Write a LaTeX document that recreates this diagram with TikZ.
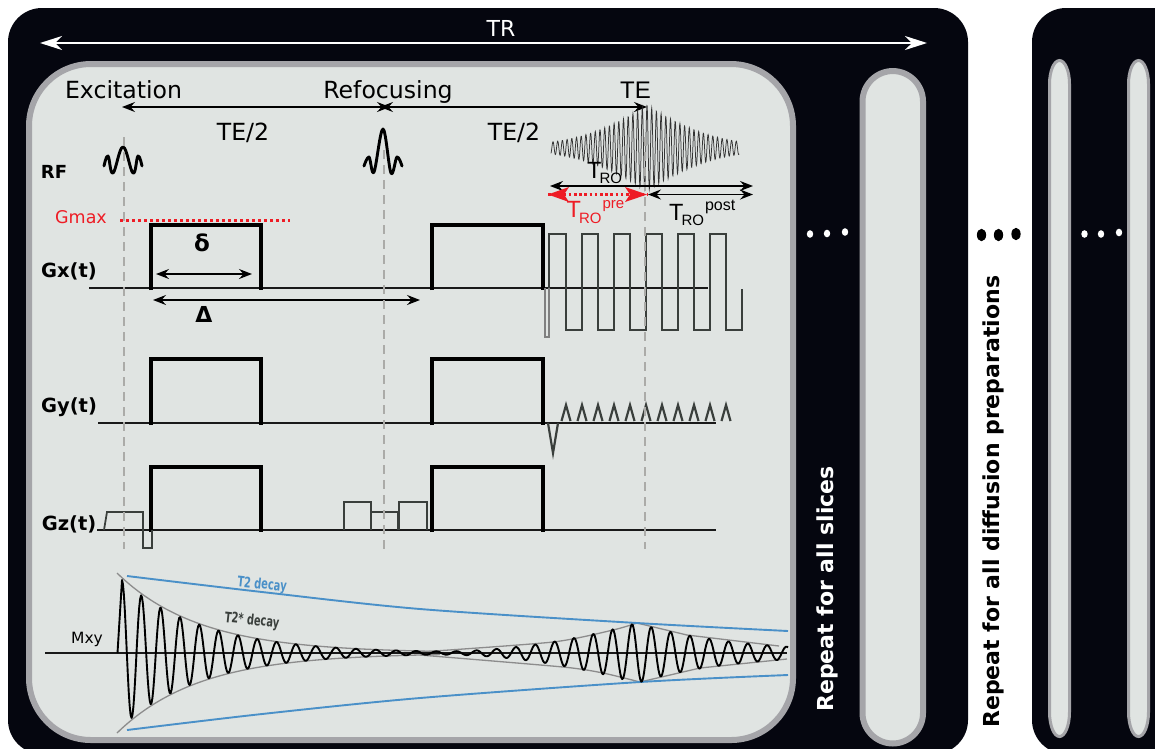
\documentclass[tikz,border=0pt]{standalone}
\usepackage{fontspec}
\setmainfont{DejaVu Sans}
\newfontfamily\libfont{Liberation Sans}
\usetikzlibrary{arrows.meta}
\newcommand{\fsz}[1]{\fontsize{#1}{#1}\selectfont}
\definecolor{panel}{HTML}{05060F}
\definecolor{inner}{HTML}{E0E4E2}
\definecolor{rim}{HTML}{A5A5A9}
\definecolor{dashgray}{HTML}{ABABA8}
\definecolor{wire}{HTML}{3A3F3C}
\definecolor{bluecurve}{HTML}{4A90C8}
\definecolor{redmark}{HTML}{EE1C25}
\definecolor{envgray}{HTML}{8C8C8C}
\tikzset{
  txt/.style={inner sep=0pt,anchor=base,font=\fsz{23.6}},
  lab/.style={inner sep=0pt,anchor=base,font=\bfseries\fsz{19.5}},
  tro/.style={inner sep=0pt,anchor=base west,font=\libfont\fsz{23.5}},
  capsule/.style={draw=rim,fill=inner,line width=6pt,rounded corners=30.5pt},
  slim/.style={draw=rim,fill=inner,line width=3pt},
  guide/.style={draw=dashgray,line width=2.6pt,dash pattern=on 9pt off 6pt},
  pulse/.style={line width=4.2pt,miter limit=10},
  axis/.style={line width=1.5pt,black!90},
  lobe/.style={line width=2.2pt,wire,line join=miter},
  box/.style={line width=1.8pt,wire},
  dim/.style={line width=1.6pt,{Stealth[length=13pt,width=10pt,inset=4.5pt]}-{Stealth[length=13pt,width=10pt,inset=4.5pt]}},
  wht/.style={white,line width=1.7pt,{Stealth[length=22pt,width=14pt,inset=7pt]}-{Stealth[length=22pt,width=14pt,inset=7pt]}},
  rfp/.style={line width=2.9pt,line join=round,line cap=round},
  env/.style={envgray,line width=1.3pt},
  blu/.style={bluecurve,line width=1.9pt}
}
\begin{document}
\begin{tikzpicture}[x=1pt,y=-1pt,
  declare function={
    mxyrise(\x)=max(0,1-(637-\x)/210);
    mxyamp(\x)=73*exp(-(\x-122)/82)+ifthenelse(\x<637,30*mxyrise(\x)*mxyrise(\x),30*exp(-(\x-637)/96));
    mxyph(\x)=(\x-122)/19.33-0.38*min(1,max(0,(\x-300)/200));
    echot(\x)=max(0,1-abs(\x-647)/96);
    echoamp(\x)=6+37*echot(\x)*(0.3+0.7*echot(\x));
  }]
\useasboundingbox (0,0) rectangle (1155,748);
\begin{scope}
\clip (0,0) rectangle (1155,748);
\fill[white] (0,0) rectangle (1155,748);
\fill[panel,rounded corners=34pt] (8,8) rectangle (968,754);
\fill[panel,rounded corners=34pt] (1032,8) rectangle (1200,754);
\path[capsule,rounded corners=62pt] (29,64) rectangle (793,740);
\path[capsule] (862.5,71) rectangle (923,743.5);
\path[slim] (1049.5,84) arc[x radius=10,y radius=23.5,start angle=180,end angle=360] -- (1069.5,712) arc[x radius=10,y radius=24.5,start angle=0,end angle=180] -- cycle;
\path[slim] (1128.5,84) arc[x radius=10,y radius=23.5,start angle=180,end angle=360] -- (1148.5,712) arc[x radius=10,y radius=24.5,start angle=0,end angle=180] -- cycle;
\end{scope}

% dots
\foreach \px/\py in {810/234,827/233.5,845/232,1084.5/234,1101/234,1119/232.5}
  \fill[white] (\px,\py) ellipse[x radius=3.2,y radius=3.8];
\foreach \px/\py in {981.5/235,998.5/235,1016/234}
  \fill[black] (\px,\py) ellipse[x radius=4.6,y radius=6.2];

% TR
\coordinate (trL) at (40,43); \coordinate (trR) at (927,43);
\draw[wht] (trL) -- (trR);
\node[txt,white,font=\fsz{22}] (trlab) at (501,36) {TR};

% timing labels and arrows
\node[txt] (exc) at (123.5,98) {Excitation};
\node[txt] (ref) at (388,98) {Refocusing};
\node[txt,font=\libfont\fsz{24}] (te) at (635.5,98) {TE};
\node[txt] (te1) at (243,140) {TE/2};
\node[txt] (te2) at (514,140) {TE/2};
\coordinate (excP) at (122,107); \coordinate (refPa) at (390,107); \coordinate (refPb) at (380,107); \coordinate (teP) at (647,107);
\draw[dim] (excP) -- (refPa);
\draw[dim] (refPb) -- (teP);

% RF pulses
\node[lab,font=\bfseries\fsz{18}] (rf) at (54,178) {RF};
\draw[rfp] plot[smooth,tension=.7] coordinates {(104,166) (108,156) (113,173) (123,147) (133,173) (138,156) (142,166)};
\draw[rfp] plot[smooth,tension=.6] coordinates {(364,166) (369,157) (374,172) (383,129) (391,173) (397,157) (402,166)};

% readout echo
\draw[line width=.75pt,black!80] plot[samples=701,domain=551:739] (\x,{148-echoamp(\x)*cos(76.596*(\x-647))});

% Gmax
\node[lab,font=\fsz{17.5},redmark] (gmax) at (81,223) {Gmax};
\coordinate (gmL) at (120,220); \coordinate (gmR) at (290,220);
\draw[redmark,line width=3pt,dash pattern=on 3pt off 3pt] (gmL) -- (gmR);

% Gx
\node[lab] (gx) at (69,277) {Gx(t)};
\draw[axis] (89,288) -- (708,288);
\draw[pulse] (151,290) |- (261,225) -- (261,290);
\draw[pulse] (432,290) |- (543,225) -- (543,290);
\draw[line width=2.4pt,gray] (545,288) -- (545,337) -- (549,337) -- (549,288);
\draw[lobe] (549,288) -- (549,234) -- (566,234) -- (566,330) -- (582,330) -- (582,234) -- (598,234) -- (598,330) -- (614,330) -- (614,234) -- (630,234) -- (630,330) -- (646,330) -- (646,234) -- (662,234) -- (662,330) -- (678,330) -- (678,234) -- (694,234) -- (694,330) -- (710,330) -- (710,234) -- (726,234) -- (726,330) -- (742,330) -- (742,289);
\node[lab,font=\bfseries\fsz{23}] (delta) at (202,251) {δ};
\coordinate (dL) at (156,274); \coordinate (dR) at (252,274);
\draw[dim] (dL) -- (dR);
\node[lab,font=\bfseries\fsz{22}] (Delta) at (204,322) {Δ};
\coordinate (DL) at (153,300); \coordinate (DR) at (420,300);
\draw[dim] (DL) -- (DR);

% Gy
\node[lab] (gy) at (69,412) {Gy(t)};
\draw[axis,line width=1.7pt] (98,423) -- (716,423);
\draw[pulse] (151,425) |- (261,359) -- (261,425);
\draw[pulse] (432,425) |- (543,359) -- (543,425);
\draw[lobe] (548,423) -- (553,453) -- (558,423);
\foreach \bx in {566,582,598,614,630,646,662,678,694,710}
  \draw[lobe] (\bx-4.5,421) -- (\bx,405) -- (\bx+4.5,421);
\draw[lobe] (721.5,421) -- (726,405) -- (730.5,421);

% Gz
\node[lab] (gz) at (69,530) {Gz(t)};
\draw[axis,line width=1.7pt] (97,530) -- (716,530);
\draw[pulse] (151,532) |- (261,467) -- (261,532);
\draw[pulse] (432,532) |- (543,467) -- (543,532);
\draw[box] (104,530) -- (107,512) -- (143,512) -- (143,548) -- (152,548) -- (152,530);
\draw[box] (344,530) -- (344,502) -- (371,502) -- (371,530);
\draw[box] (371,512) -- (398,512) -- (398,530);
\draw[box] (399,530) -- (399,502) -- (427,502) -- (427,530);

% guides
\draw[guide] (124,137) -- (124,549);
\draw[guide] (384,150) -- (384,549);
\draw[guide] (645,137) -- (645,549);

% T_RO marks
\coordinate (roL) at (550,186); \coordinate (roR) at (753,186);
\coordinate (poL) at (648,194.5); \coordinate (poR) at (753,194.5);
\draw[dim] (roL) -- (roR);
\draw[dim] (poL) -- (poR);
\coordinate (prL) at (548,194.5); \coordinate (prR) at (647,194.5);
\fill[redmark] (prL) -- (569,187) -- (564,194.5) -- (569,202) -- cycle;
\fill[redmark] (prR) -- (625,187) -- (630,194.5) -- (625,202) -- cycle;
\draw[redmark,line width=2.6pt,dash pattern=on 2.6pt off 2.6pt] (prL) -- (prR);
\node[tro] (tro1) at (587,178) {T\hspace{-2pt}\raisebox{-5pt}{\fsz{15}RO}};
\node[tro,redmark] (tro2) at (566.5,217) {T\hspace{-2pt}\raisebox{-6pt}{\fsz{15}RO}\hspace{1pt}\raisebox{9pt}{\fsz{15}pre}};
\node[tro] (tro3) at (669,220) {T\hspace{-2pt}\raisebox{-5pt}{\fsz{15}RO}\hspace{1pt}\raisebox{10pt}{\fsz{16}post}};

% Mxy
\node[lab,font=\fsz{15.5}] (mxy) at (87,643) {Mxy};
\draw[env] plot[samples=120,domain=117:440] (\x,{653-80*exp(-(\x-117)/82)});
\draw[env] plot[samples=120,domain=117:440] (\x,{653+80*exp(-(\x-117)/82)});
\draw[env] plot[smooth,tension=.4] coordinates {(420,652) (553,642) (613,630) (637,623)};
\draw[env] (637,623) -- (687,635) -- (779,646);
\draw[env] plot[smooth,tension=.4] coordinates {(420,655) (563,667) (603,673) (640,682)};
\draw[env] (640,682) -- (700,668) -- (787,659);
\draw[blu] plot[smooth,tension=.5] coordinates {(127,576) (262,592) (420,609) (637,623) (788,631)};
\draw[blu] plot[smooth,tension=.5] coordinates {(127,730) (262,714) (420,698) (640,682) (788,675)};
\draw[axis] (45,653) -- (787,653);
\draw[line width=1.9pt,line join=round] (117.5,653) -- (122,580) -- plot[samples=700,domain=122:788] (\x,{653-mxyamp(\x)*cos(360*mxyph(\x))});
\node[inner sep=0pt,rotate=-6,text=bluecurve,font=\bfseries\fsz{14.5}] (t2) at (262,585) {\scalebox{.68}[1]{T2 decay}};
\node[inner sep=0pt,rotate=-6,text=wire,font=\bfseries\fsz{14.5}] (t2s) at (252,621) {\scalebox{.68}[1]{T2* decay}};

% repeat labels
\node[inner sep=0pt,rotate=90,anchor=base west,white,font=\bfseries\fsz{22}] (rs) at (833,712) {Repeat for all slices};
\node[inner sep=0pt,rotate=90,anchor=base west,font=\bfseries\fsz{22}] (rd) at (999,728) {Repeat for all diffusion preparations};
\end{tikzpicture}
\end{document}
